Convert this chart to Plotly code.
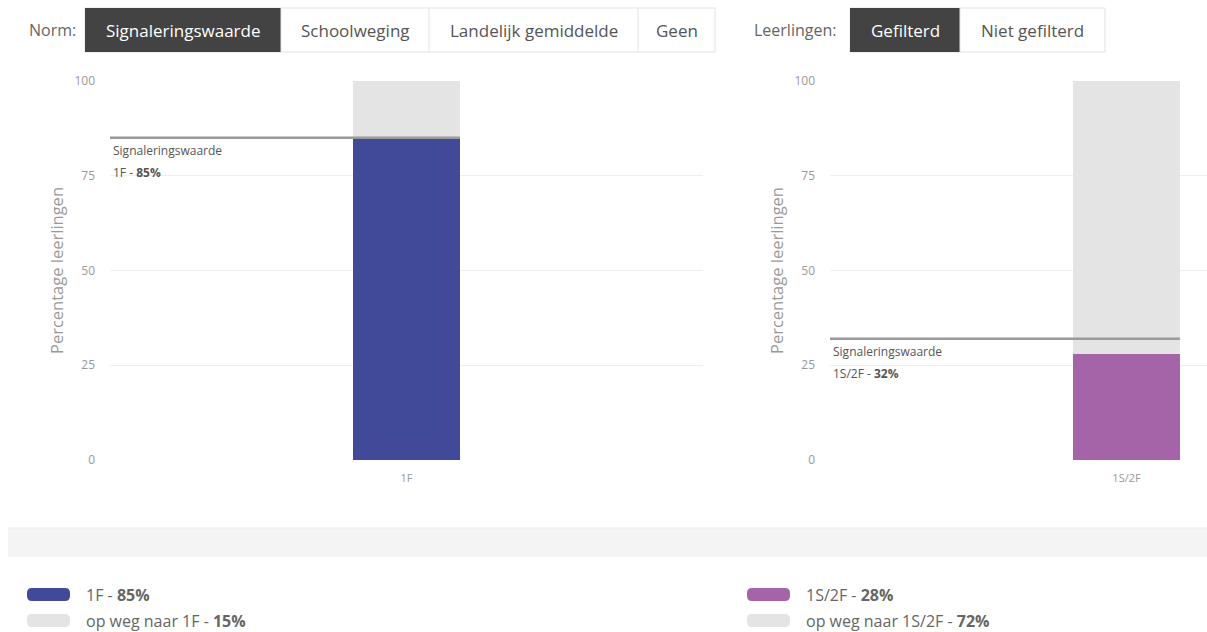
import plotly.graph_objects as go

# ---- data ----
left_categories = ["1F"]
left_values = [85]
left_remaining = [15]
left_signal = 85

right_categories = ["1S/2F"]
right_values = [28]
right_remaining = [72]
right_signal = 32

y_ticks = [0, 25, 50, 75, 100]

norm_buttons = ["Signaleringswaarde", "Schoolweging", "Landelijk gemiddelde", "Geen"]
pupil_buttons = ["Gefilterd", "Niet gefilterd"]

OFF = 0
W, H = 1207, 632
FONT = "Open Sans"
BLUE = "#414999"
PURPLE = "#a563a8"
GREY = "#e4e4e4"
TICK = "#999999"


def px(x):
    return (x - OFF) / W


def py(y):
    return 1 - (y - OFF) / H


fig = go.Figure()

fig.add_trace(go.Bar(x=left_categories, y=left_values, marker_color=BLUE, width=0.18,
                     xaxis="x", yaxis="y", showlegend=False, marker_line_width=0))
fig.add_trace(go.Bar(x=left_categories, y=left_remaining, marker_color=GREY, width=0.18,
                     xaxis="x", yaxis="y", showlegend=False, marker_line_width=0))
fig.add_trace(go.Bar(x=right_categories, y=right_values, marker_color=PURPLE, width=0.18,
                     xaxis="x2", yaxis="y2", showlegend=False, marker_line_width=0))
fig.add_trace(go.Bar(x=right_categories, y=right_remaining, marker_color=GREY, width=0.18,
                     xaxis="x2", yaxis="y2", showlegend=False, marker_line_width=0))

ydom = [py(460), py(81)]
left_dom = [px(110), px(703)]
right_dom = [px(830), 1.0]
unit = (703 - 110)
right_range = [-0.5, -0.5 + (1207 - 830) / unit]

axis_common = dict(showgrid=False, zeroline=False, showline=False, ticks="",
                   tickfont=dict(family=FONT, size=11, color=TICK), type="category",
                   ticklabelstandoff=10,
                   fixedrange=True, automargin=False)
yaxis_common = dict(range=[0, 100], tickvals=y_ticks, showgrid=True, gridcolor="#efefef",
                    gridwidth=1, zeroline=False, showline=False, ticks="",
                    tickfont=dict(family=FONT, size=12, color=TICK),
                    ticklabelstandoff=14, automargin=False,
                    title=dict(text="Percentage leerlingen",
                               font=dict(family=FONT, size=16.5, color=TICK), standoff=6),
                    domain=ydom, fixedrange=True)

fig.update_layout(
    template="none",
    width=W, height=H,
    margin=dict(l=0, r=0, t=0, b=0, pad=0),
    paper_bgcolor="white", plot_bgcolor="white",
    barmode="stack",
    showlegend=False,
    hovermode=False,
    font=dict(family=FONT),
    xaxis=dict(domain=left_dom, range=[-0.5, 0.5], anchor="y", **axis_common),
    yaxis=dict(anchor="x", **yaxis_common),
    xaxis2=dict(domain=right_dom, range=right_range, anchor="y2", **axis_common),
    yaxis2=dict(anchor="x2", **yaxis_common),
)

shapes = []
ann = []

for xr, yr, sig, cat, xlabel in [("x", "y", left_signal, left_categories[0], 111),
                                 ("x2", "y2", right_signal, right_categories[0], 831)]:
    shapes.append(dict(type="line", xref=xr, yref=yr, x0=-0.5, x1=0.09, y0=sig, y1=sig,
                       line=dict(color="#9a9a9a", width=2.5)))
    ann.append(dict(text="Signaleringswaarde", xref="paper", yref=yr, x=px(xlabel), y=sig - 3.4,
                    xanchor="left", yanchor="middle", showarrow=False,
                    font=dict(family=FONT, size=12, color="#555")))
    ann.append(dict(text=f"{cat} - <b>{sig}%</b>", xref="paper", yref=yr, x=px(xlabel), y=sig - 9.2,
                    xanchor="left", yanchor="middle", showarrow=False,
                    font=dict(family=FONT, size=12, color="#555")))

shapes.append(dict(type="rect", xref="paper", yref="paper", x0=px(8), x1=1, y0=py(557), y1=py(528),
                   fillcolor="#f4f4f4", line=dict(width=0), layer="below"))
shapes.append(dict(type="line", xref="paper", yref="paper", x0=px(8), x1=1, y0=py(528), y1=py(528),
                   line=dict(color="#ececec", width=1)))


def swatch(xa, ya, xb, yb, color):
    x0, y0, x1, y1 = px(xa), py(ya), px(xb), py(yb)
    rx, ry = 5 / W, 5 / H
    path = (f"M {x0 + rx},{y0} L {x1 - rx},{y0} Q {x1},{y0} {x1},{y0 - ry} L {x1},{y1 + ry} "
            f"Q {x1},{y1} {x1 - rx},{y1} L {x0 + rx},{y1} Q {x0},{y1} {x0},{y1 + ry} "
            f"L {x0},{y0 - ry} Q {x0},{y0} {x0 + rx},{y0} Z")
    return dict(type="path", xref="paper", yref="paper", path=path, fillcolor=color,
                line=dict(width=0))


for sx, tx, cat, val, rem, color in [(27, 84, left_categories[0], left_values[0], left_remaining[0], BLUE),
                                     (747, 804, right_categories[0], right_values[0], right_remaining[0], PURPLE)]:
    shapes.append(swatch(sx, 588, sx + 43, 601, color))
    shapes.append(swatch(sx, 614, sx + 43, 627, GREY))
    ann.append(dict(text=f"{cat} - <b>{val}%</b>", xref="paper", yref="paper", x=px(tx), y=py(595),
                    xanchor="left", yanchor="middle", showarrow=False,
                    font=dict(family=FONT, size=16, color="#666")))
    ann.append(dict(text=f"op weg naar {cat} - <b>{rem}%</b>", xref="paper", yref="paper", x=px(tx),
                    y=py(621), xanchor="left", yanchor="middle", showarrow=False,
                    font=dict(family=FONT, size=16, color="#666")))


def button_group(label, label_x, edges, texts, active_index):
    ann.append(dict(text=label, xref="paper", yref="paper", x=px(label_x), y=py(30),
                    xanchor="left", yanchor="middle", showarrow=False,
                    font=dict(family=FONT, size=16, color="#666")))
    shapes.append(dict(type="rect", xref="paper", yref="paper", x0=px(edges[0]), x1=px(edges[-1]),
                       y0=py(52), y1=py(8), fillcolor="white", line=dict(color="#e2e2e2", width=1)))
    for i, t in enumerate(texts):
        a, b = edges[i], edges[i + 1]
        if i == active_index:
            shapes.append(dict(type="rect", xref="paper", yref="paper", x0=px(a), x1=px(b),
                               y0=py(52), y1=py(8), fillcolor="#434343", line=dict(width=0)))
        elif i > 0:
            shapes.append(dict(type="line", xref="paper", yref="paper", x0=px(a), x1=px(a),
                               y0=py(52), y1=py(8), line=dict(color="#e2e2e2", width=1)))
        ann.append(dict(text=t, xref="paper", yref="paper", x=px((a + b) / 2), y=py(30),
                        xanchor="center", yanchor="middle", showarrow=False,
                        font=dict(family=FONT, size=17,
                                  color="white" if i == active_index else "#555")))


button_group("Norm:", 27, [85, 281, 429, 638, 715], norm_buttons, 0)
button_group("Leerlingen:", 752, [850, 960, 1105], pupil_buttons, 0)

fig.update_layout(shapes=shapes, annotations=ann)

# remove the default page margin so the 1207x632 figure fills the window exactly
fig.write_html("out.html",
               config={"displayModeBar": False, "staticPlot": True},
               post_script="document.body.style.margin='0';document.body.style.overflow='hidden';")
